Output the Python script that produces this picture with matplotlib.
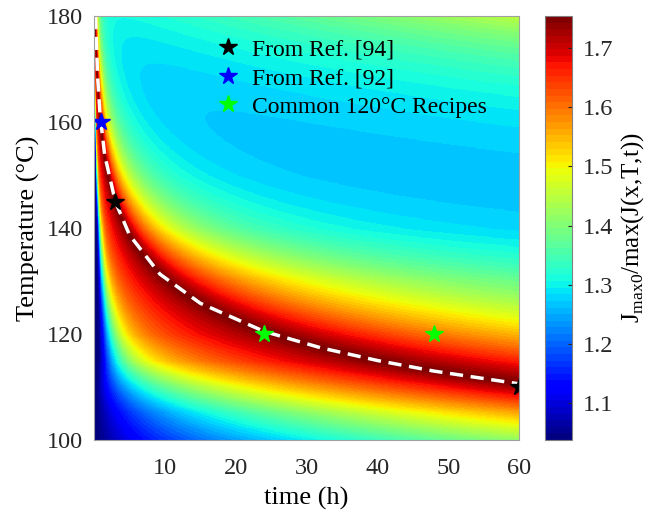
import numpy as np
import matplotlib
matplotlib.use("Agg")
import matplotlib.pyplot as plt

plt.rcParams["font.family"] = ["Liberation Serif", "DejaVu Serif"]
plt.rcParams["mathtext.fontset"] = "custom"
plt.rcParams["mathtext.rm"] = "Liberation Serif"

# ridge of the map (white dashed line)
ridge_t = [0.22, 0.5, 0.85, 1.5, 3, 5, 9.3, 15, 24, 32, 40, 48, 55, 60]
ridge_T = [180, 168.6, 161.4, 153.8, 145.0, 138.7, 131.3, 125.8, 120.5, 117.4, 115.0, 113.0, 111.6, 110.6]

# fall-off of the map on the short-time side of the ridge (in ln t), per temperature
left_T = [100, 105, 110, 115, 120, 130, 140, 160, 180]
left_a = [0.62, 0.55, 0.4, 0.25, 0.2, 0.2, 0.2, 0.2, 0.2]
left_w = [4.2, 4.0, 3.6, 3.0, 2.7, 2.3, 1.9, 1.5, 1.2]
left_p = [3.0, 3.0, 3.2, 4.0, 4.4, 5.0, 5.4, 5.4, 5.4]
# fall-off on the long-time side
right_T = [100, 110, 120, 130, 140, 150, 160, 180]
right_w = [1.6, 1.6, 1.5, 1.4, 1.1, 1.0, 0.95, 0.85]

# levels
peak_val = 1.752
low_val = 1.037
floor_val = 1.24
cmin, cmax = 1.037, 1.7547

# marked recipes
ref94_t = [3, 60]
ref94_T = [145, 110]
ref92_t = [1]
ref92_T = [160]
common_t = [24, 48]
common_T = [120, 120]

# build the map
t_grid = np.linspace(0.03, 60, 1200)
T_grid = np.linspace(100, 180, 800)
tt, TT = np.meshgrid(t_grid, T_grid)

coef = np.polyfit(1 / (np.array(ridge_T) + 273.15), np.log(ridge_t), 1)
u = np.log(tt) - np.polyval(coef, 1 / (TT + 273.15))

al = np.interp(TT, left_T, left_a)
wl = np.interp(TT, left_T, left_w)
pl = np.interp(TT, left_T, left_p)
wr = np.interp(TT, right_T, right_w)

g = np.sqrt(u**2 + 0.0025) - 0.05
left = low_val + (peak_val - low_val) * np.exp(-(al * g**0.8 + (g / wl) ** pl))
right = floor_val + (peak_val - floor_val) * np.exp(-(np.clip(u, 0, None) / wr) ** 1.2)
rise = (0.05 + 0.0027 * tt) * np.exp((TT - 180) / 13.0)
field = np.where(u < 0, left, right) + rise
field = np.clip(field, cmin, cmax)

fig = plt.figure(figsize=(6.65, 5.13), dpi=100)
ax = fig.add_axes([0.1414, 0.1423, 0.6391, 0.8265])
cax = fig.add_axes([0.8195, 0.1423, 0.0406, 0.8265])

cmap = matplotlib.colormaps["jet"].resampled(64)
im = ax.imshow(field, extent=[0, 60, 100, 180], origin="lower", aspect="auto",
               cmap=cmap, vmin=cmin, vmax=cmax, interpolation="nearest")

ax.plot(ridge_t, ridge_T, color="white", lw=2.5, dashes=(3.8, 2.2))
ax.plot(ref94_t, ref94_T, ls="none", marker="*", ms=13, color="black", label="From Ref. [94]")
ax.plot(ref92_t, ref92_T, ls="none", marker="*", ms=13, color="#0000ff", label="From Ref. [92]")
ax.plot(common_t, common_T, ls="none", marker="*", ms=13, color="#00ff00", label="Common 120°C Recipes")

ax.set_xlim(0, 60)
ax.set_ylim(100, 180)
ax.set_xticks([10, 20, 30, 40, 50, 60])
ax.set_yticks([100, 120, 140, 160, 180])
ax.tick_params(length=0, labelsize=17.5, colors="#262626")
ax.tick_params(axis="x", pad=13)
ax.tick_params(axis="y", pad=8)
for s in ax.spines.values():
    s.set_color("#a0a0a0")
    s.set_linewidth(0.8)
ax.set_xlabel("time (h)", fontsize=19, labelpad=6)
ax.set_ylabel("Temperature (°C)", fontsize=19, labelpad=5)

ax.legend(loc="upper left", bbox_to_anchor=(0.235, 0.985), frameon=False, fontsize=17,
          handletextpad=0.25, labelspacing=0.3, borderpad=0.2, handlelength=1.5)

cb = fig.colorbar(im, cax=cax)
cb.set_ticks([1.1, 1.2, 1.3, 1.4, 1.5, 1.6, 1.7])
cb.ax.tick_params(direction="in", length=3, labelsize=17.5, colors="#262626", pad=8)
cb.outline.set_edgecolor("#808080")
cb.set_label("J$_{\\mathrm{max0}}$/max(J(x,T,t))", fontsize=18, labelpad=4)

fig.savefig("out.png", dpi=100)
